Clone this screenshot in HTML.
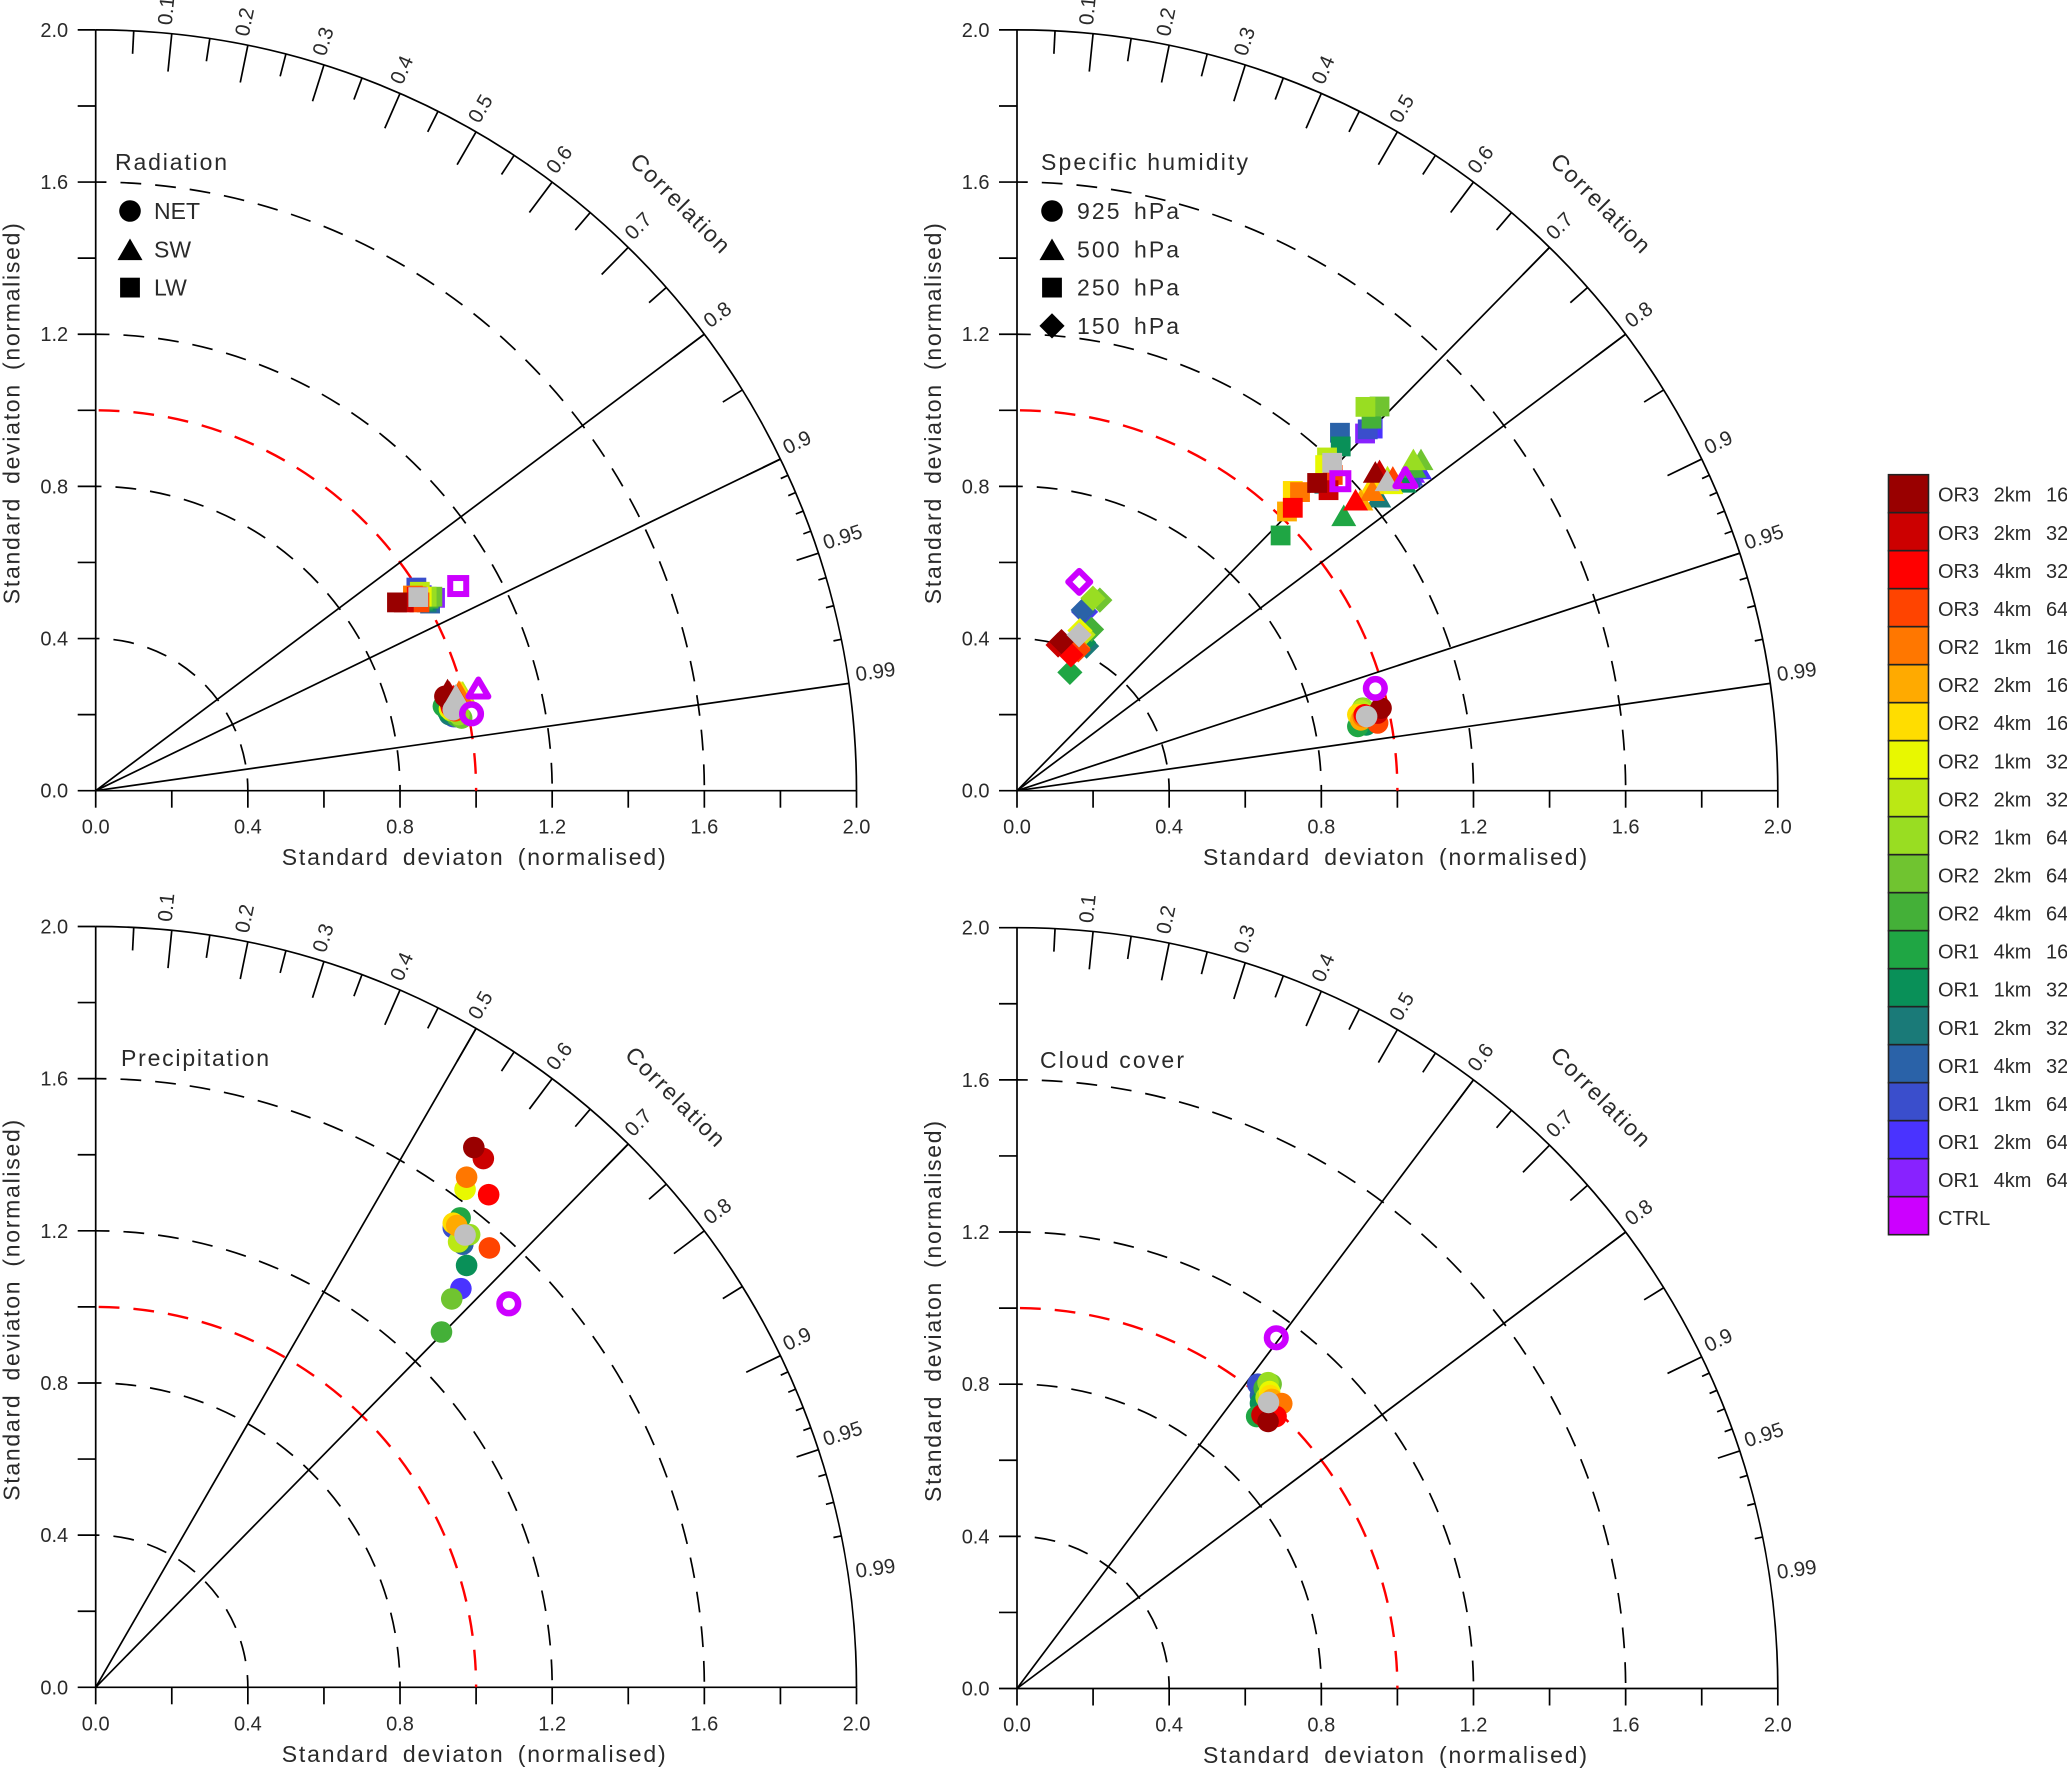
<!DOCTYPE html>
<html lang="en">
<head>
<meta charset="utf-8">
<title>Taylor diagrams</title>
<style>
html,body{margin:0;padding:0;background:#fff;}
svg{display:block;}
text{font-family:"Liberation Sans",sans-serif;fill:#2a2a2a;}
</style>
</head>
<body>
<svg id="chart" xmlns="http://www.w3.org/2000/svg" width="2067" height="1770" viewBox="0 0 2067 1770"></svg>
<script>
// ---------- data: series ----------
const categories = ["OR3 2km 16","OR3 2km 32","OR3 4km 32","OR3 4km 64","OR2 1km 16","OR2 2km 16","OR2 4km 16","OR2 1km 32","OR2 2km 32","OR2 1km 64","OR2 2km 64","OR2 4km 64","OR1 4km 16","OR1 1km 32","OR1 2km 32","OR1 4km 32","OR1 1km 64","OR1 2km 64","OR1 4km 64","CTRL"];
const palette = ["#990000","#cc0000","#ff0000","#ff4400","#ff7700","#ffaa00","#ffdd00","#e8f800","#bbe814","#99dd22","#70c430","#44b038","#1fa644","#099058","#1a7a78","#2a62a8","#3a4ecc","#4a33ff","#8822ff","#cc00ff"];
const meanColor = "#c0c0c0";

// normalised x / y for each category, the final element is the grey mean marker
const radNetX = [.918,.93,.935,.945,.945,.94,.935,.93,.935,.955,.962,.95,.914,.925,.93,.94,.94,.945,.945,.988,.94];
const radNetY = [.248,.235,.22,.21,.225,.22,.215,.215,.21,.2,.191,.195,.222,.21,.2,.2,.195,.195,.2,.202,.213];
const radSwX = [.925,.93,.94,.95,.955,.955,.96,.96,.965,.955,.95,.95,.94,.945,.945,.95,.95,.95,.95,1.006,.947];
const radSwY = [.266,.26,.25,.25,.262,.255,.26,.26,.26,.255,.25,.25,.245,.25,.25,.25,.25,.25,.25,.27,.252];
const radLwX = [.792,.81,.844,.851,.834,.84,.85,.857,.852,.87,.885,.875,.86,.865,.87,.879,.843,.857,.892,.953,.848];
const radLwY = [.495,.495,.51,.495,.513,.51,.51,.51,.523,.51,.51,.505,.5,.5,.495,.492,.534,.514,.507,.538,.509];

const humCirX = [.957,.948,.913,.948,.91,.904,.896,.9,.905,.91,.909,.9,.896,.918,.92,.92,.92,.925,.925,.942,.919];
const humCirY = [.217,.204,.1995,.178,.195,.186,.2,.2,.21,.215,.217,.19,.169,.173,.18,.19,.195,.2,.2,.269,.195];
const humTriX = [.942,.953,.89,.988,.934,.904,.935,.983,.974,1.042,1.062,1.044,.859,1.018,.951,1.03,1.035,1.058,1.04,1.021,.973];
const humTriY = [.838,.842,.765,.825,.79,.765,.808,.808,.826,.871,.871,.851,.724,.812,.773,.825,.83,.847,.838,.823,.816];
const humSqX = [.789,.819,.725,.83,.744,.7097,.725,.81,.815,.916,.953,.932,.693,.851,.808,.849,.922,.935,.915,.85,.8285];
const humSqY = [.809,.79,.7437,.83,.785,.734,.788,.856,.876,1.009,1.01,.978,.671,.905,.807,.941,.95,.952,.939,.8136,.862];
const humDiaX = [.117,.108,.1417,.161,.16,.155,.165,.1654,.174,.1996,.2178,.196,.139,.175,.183,.174,.175,.18,.18,.1636,.163];
const humDiaY = [.392,.383,.357,.37,.375,.37,.41,.421,.41,.506,.501,.424,.311,.39,.38,.475,.47,.47,.47,.549,.4095];

const preCirX = [.994,1.019,1.033,1.035,.975,.949,.94,.971,.954,.983,.936,.909,.958,.975,.96,.965,.94,.96,.965,1.086,.971];
const preCirY = [1.419,1.39,1.295,1.155,1.341,1.214,1.22,1.309,1.171,1.19,1.021,.934,1.234,1.109,1.17,1.165,1.208,1.048,1.165,1.008,1.189];

const cldCirX = [.66,.644,.681,.67,.696,.67,.665,.664,.655,.66,.668,.65,.63,.64,.646,.64,.633,.64,.64,.6816,.661];
const cldCirY = [.702,.719,.715,.72,.749,.76,.77,.7805,.765,.804,.8,.79,.715,.75,.76,.77,.8,.79,.79,.922,.752];

// ---------- data: axis ticks ----------
const axisTicks = [0,.2,.4,.6,.8,1,1.2,1.4,1.6,1.8,2];
const axisTickLabels = ["0.0","","0.4","","0.8","","1.2","","1.6","","2.0"];
const stdRadii = [.4,.8,1,1.2,1.6];
const majorCorr = [.1,.2,.3,.4,.5,.6,.7,.8,.9];
const majorCorrLabels = ["0.1","0.2","0.3","0.4","0.5","0.6","0.7","0.8","0.9"];
const midCorr = [.05,.15,.25,.35,.45,.55,.65,.75,.85,.95];
const smallCorr = [.91,.92,.93,.94,.96,.97,.98];
const extraCorrLabels = ["0.95","0.99"];
const extraCorr = [.95,.99];

// ---------- panels ----------
const panels = [
  {id:"radiation", ox:95.7, oy:790.7, title:"Radiation", tx:115, tw:112, ty:170, spokes:[.8,.9,.99],
   cdx:0, cdy:0, keyX:130, keyTextX:154, keyTw:41,
   key:[["circle","NET"],["triangle","SW"],["square","LW"]],
   sets:[["square",radLwX,radLwY],["triangle",radSwX,radSwY],["circle",radNetX,radNetY]]},
  {id:"specific-humidity", ox:1017, oy:790.7, title:"Specific humidity", tx:1041, tw:207, ty:170, spokes:[.7,.8,.95,.99],
   cdx:-1, cdy:0, keyX:1052, keyTextX:1077, keyTw:102,
   key:[["circle","925 hPa"],["triangle","500 hPa"],["square","250 hPa"],["diamond","150 hPa"]],
   sets:[["square",humSqX,humSqY],["triangle",humTriX,humTriY],["diamond",humDiaX,humDiaY],["circle",humCirX,humCirY]]},
  {id:"precipitation", ox:95.7, oy:1687.3, title:"Precipitation", tx:121, tw:148, ty:1066, spokes:[.5,.7],
   cdx:-5, cdy:-3, key:[], sets:[["circle",preCirX,preCirY]]},
  {id:"cloud-cover", ox:1017, oy:1688.5, title:"Cloud cover", tx:1040, tw:144, ty:1068, spokes:[.6,.8],
   cdx:-1, cdy:-4, key:[], sets:[["circle",cldCirX,cldCirY]]}
];

// ---------- scales ----------
const UNIT = 380.4;
function px(p, v){ return p.ox + v * UNIT; }
function py(p, v){ return p.oy - v * UNIT; }
function corrAngle(c){ return Math.acos(c); }

// ---------- primitives ----------
const NS = "http://www.w3.org/2000/svg";
const root = document.getElementById("chart");
function group(parent, name){
  const el = document.createElementNS(NS, "g");
  
  
  parent.appendChild(el);
  return el;
}
function line(parent, x1, y1, x2, y2, name){
  const el = document.createElementNS(NS, "line");
  el.setAttribute("x1", x1);
  el.setAttribute("y1", y1);
  el.setAttribute("x2", x2);
  el.setAttribute("y2", y2);
  el.setAttribute("stroke", "#000");
  el.setAttribute("stroke-width", "1.7");
  
  
  parent.appendChild(el);
  return el;
}
function arc(parent, p, radius, name){
  const r = radius * UNIT;
  const el = document.createElementNS(NS, "path");
  el.setAttribute("d", "M" + p.ox + " " + (p.oy - r) + " A" + r + " " + r + " 0 0 1 " + (p.ox + r) + " " + p.oy);
  el.setAttribute("fill", "none");
  el.setAttribute("stroke", "#000");
  el.setAttribute("stroke-width", "1.7");
  
  
  parent.appendChild(el);
  return el;
}
function label(parent, str, x, y, size, anchor, name){
  const el = document.createElementNS(NS, "text");
  el.setAttribute("x", x);
  el.setAttribute("y", y);
  el.setAttribute("font-size", size);
  el.setAttribute("text-anchor", anchor);
  
  
  el.textContent = str;
  parent.appendChild(el);
  return el;
}
function shape(parent, kind, cx, cy, color, ring, name){
  let el;
  if (kind === "circle") {
    el = document.createElementNS(NS, "circle");
    el.setAttribute("cx", cx);
    el.setAttribute("cy", cy);
    el.setAttribute("r", ring ? 9.3 : 10.8);
  } else if (kind === "square") {
    const s = ring ? 16 : 19.8;
    el = document.createElementNS(NS, "rect");
    el.setAttribute("x", cx - s / 2);
    el.setAttribute("y", cy - s / 2);
    el.setAttribute("width", s);
    el.setAttribute("height", s);
  } else if (kind === "triangle") {
    const w = ring ? 10 : 12.5;
    const h = ring ? 8.5 : 10.8;
    el = document.createElementNS(NS, "polygon");
    el.setAttribute("points", cx + "," + (cy - h) + " " + (cx + w) + "," + (cy + h) + " " + (cx - w) + "," + (cy + h));
  } else {
    const d = ring ? 11 : 12.6;
    el = document.createElementNS(NS, "polygon");
    el.setAttribute("points", cx + "," + (cy - d) + " " + (cx + d) + "," + cy + " " + cx + "," + (cy + d) + " " + (cx - d) + "," + cy);
  }
  if (ring) {
    el.setAttribute("fill", "none");
    el.setAttribute("stroke", color);
    el.setAttribute("stroke-width", kind === "circle" ? 6.5 : 6);
    el.setAttribute("stroke-linejoin", kind === "square" ? "miter" : "round");
  } else {
    el.setAttribute("fill", color);
  }
  
  
  parent.appendChild(el);
  return el;
}

// ---------- panel drawing ----------
function drawPanel(p){
  const g = group(root, p.id + "-taylor-panel");

  // axes
  line(g, p.ox, p.oy, p.ox, py(p, 2), "y-axis-line");
  line(g, p.ox, p.oy, px(p, 2), p.oy, "x-axis-line");
  arc(g, p, 2, "correlation-outer-arc");

  axisTicks.forEach(function(v, i){
    line(g, p.ox - 18, py(p, v), p.ox, py(p, v), "y-axis-tick");
    line(g, px(p, v), p.oy, px(p, v), p.oy + 17, "x-axis-tick");
    if (axisTickLabels[i]) {
      label(g, axisTickLabels[i], p.ox - 27.5, py(p, v) + 7, 20, "end", "y-tick-label");
      label(g, axisTickLabels[i], px(p, v), p.oy + 43, 20, "middle", "x-tick-label");
    }
  });

  // axis titles
  const xt = label(g, "Standard deviaton (normalised)", p.ox + 378, p.oy + 74.5, 23, "middle", "x-axis-title");
  xt.setAttribute("word-spacing", "5");
  xt.setAttribute("textLength", "384");
  const yt = label(g, "Standard deviaton (normalised)", 0, 0, 23, "middle", "y-axis-title");
  yt.setAttribute("word-spacing", "5");
  yt.setAttribute("textLength", "381");
  yt.setAttribute("transform", "translate(" + (p.ox - 76) + "," + (p.oy - 377) + ") rotate(-90)");

  // std-dev dashed arcs
  stdRadii.forEach(function(r){
    const a = arc(g, p, r, r === 1 ? "reference-std-arc" : "std-dev-arc");
    a.setAttribute("stroke-dasharray", "20.8 14");
    const phase = {0.4:17, 0.8:15, 1:-3, 1.2:7, 1.6:10}[r];
    a.setAttribute("stroke-dashoffset", phase);
    if (r === 1) {
      a.setAttribute("stroke", "#ff0000");
      a.setAttribute("stroke-width", "2.4");
    }
  });

  // radial correlation spokes
  p.spokes.forEach(function(c){
    const t = corrAngle(c);
    line(g, p.ox, p.oy, p.ox + 2 * UNIT * Math.cos(t), p.oy - 2 * UNIT * Math.sin(t), "correlation-line");
  });

  // correlation ticks
  const R = 2 * UNIT;
  function tick(c, len, name){
    const t = corrAngle(c);
    line(g, p.ox + R * Math.cos(t), p.oy - R * Math.sin(t), p.ox + (R - len) * Math.cos(t), p.oy - (R - len) * Math.sin(t), name);
  }
  function corrLabel(c, str){
    const t = corrAngle(c);
    const rr = R + 8;
    const x = p.ox + rr * Math.cos(t);
    const y = p.oy - rr * Math.sin(t);
    const el = label(g, str, 0, -1, 20.5, "start", "correlation-label");
    el.setAttribute("transform", "translate(" + x + "," + y + ") rotate(" + (-t * 180 / Math.PI) + ")");
  }
  majorCorr.forEach(function(c, i){
    tick(c, 38, "correlation-major-tick");
    corrLabel(c, majorCorrLabels[i]);
  });
  midCorr.forEach(function(c){ tick(c, 23, "correlation-mid-tick"); });
  smallCorr.forEach(function(c){ tick(c, 8, "correlation-minor-tick"); });
  extraCorr.forEach(function(c, i){ corrLabel(c, extraCorrLabels[i]); });

  // correlation title
  const ct = label(g, "Correlation", 0, 7, 23, "middle", "correlation-title");
  ct.setAttribute("textLength", "130");
  ct.setAttribute("transform", "translate(" + (p.ox + 584 + p.cdx) + "," + (p.oy - 587 + p.cdy) + ") rotate(45)");

  // panel title
  const title = label(g, p.title, p.tx, p.ty, 23, "start", "panel-title");
  title.setAttribute("textLength", p.tw);

  // marker key
  p.key.forEach(function(k, i){
    const ky = 211 + i * 38.3;
    shape(g, k[0], p.keyX, ky, "#000", false, "key-marker-" + k[0]);
    const kt = label(g, k[1], p.keyTextX, ky + 8, 23, "start", "key-label");
    kt.setAttribute("word-spacing", "4");
    if (k[1].length > 3) kt.setAttribute("textLength", p.keyTw);
  });

  // data markers: series drawn last to first, then mean, then CTRL ring
  p.sets.forEach(function(set){
    const kind = set[0], xs = set[1], ys = set[2];
    for (let i = 18; i >= 0; i--) {
      shape(g, kind, px(p, xs[i]), py(p, ys[i]), palette[i], false, "marker-" + categories[i].toLowerCase().replace(/ /g, "-"));
    }
  });
  p.sets.forEach(function(set){
    const kind = set[0], xs = set[1], ys = set[2];
    shape(g, kind, px(p, xs[20]), py(p, ys[20]), meanColor, false, "marker-mean");
  });
  p.sets.forEach(function(set){
    const kind = set[0], xs = set[1], ys = set[2];
    shape(g, kind, px(p, xs[19]), py(p, ys[19]), palette[19], true, "marker-ctrl");
  });
}
panels.forEach(drawPanel);

// ---------- colour legend ----------
const legend = group(root, "colour-legend");
categories.forEach(function(name, i){
  const y = 474.7 + i * 38;
  const sw = document.createElementNS(NS, "rect");
  sw.setAttribute("x", 1888.5);
  sw.setAttribute("y", y);
  sw.setAttribute("width", 40);
  sw.setAttribute("height", 38);
  sw.setAttribute("fill", palette[i]);
  sw.setAttribute("stroke", "#222");
  sw.setAttribute("stroke-width", "1.6");
  
  
  legend.appendChild(sw);
  const t = label(legend, name, 1938, y + 27 + i * 0.08, 20, "start", "legend-label");
  t.setAttribute("word-spacing", "9");
});
</script>
</body>
</html>
